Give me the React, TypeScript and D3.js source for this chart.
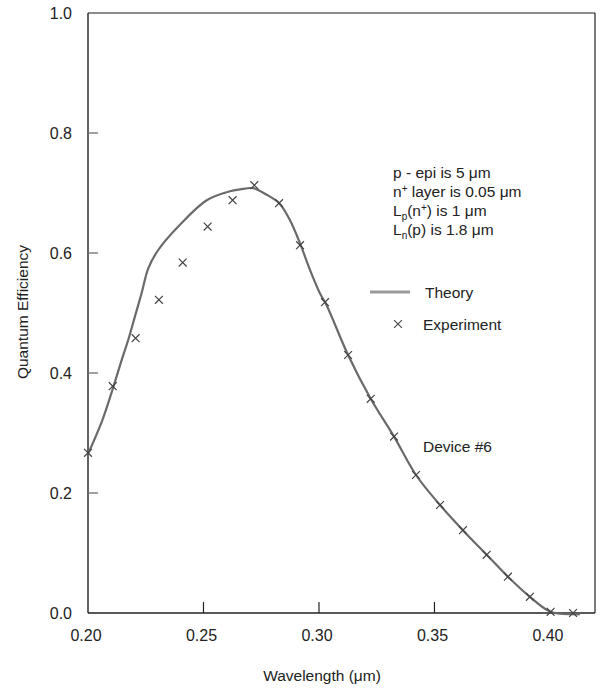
import React from "react";
import * as d3 from "d3";

const xTicks = [0.2, 0.25, 0.3, 0.35, 0.4];
const xTickLabels = ["0.20", "0.25", "0.30", "0.35", "0.40"];
const yTicks = [0, 0.2, 0.4, 0.6, 0.8, 1.0];
const yTickLabels = ["0.0", "0.2", "0.4", "0.6", "0.8", "1.0"];

const theoryX = [0.2, 0.2059, 0.211, 0.2146, 0.2174, 0.2203, 0.2232, 0.2261, 0.2304, 0.2398, 0.2514, 0.2615, 0.2658, 0.2716, 0.2774, 0.2828, 0.2874, 0.2918, 0.2961, 0.3004, 0.3033, 0.3126, 0.3224, 0.3325, 0.342, 0.3524, 0.3623, 0.3726, 0.3818, 0.3913, 0.4003, 0.41, 0.413];
const theoryY = [0.265, 0.318, 0.377, 0.422, 0.455, 0.494, 0.533, 0.5745, 0.605, 0.647, 0.688, 0.703, 0.706, 0.708, 0.697, 0.683, 0.655, 0.616, 0.572, 0.533, 0.513, 0.43, 0.357, 0.294, 0.23, 0.18, 0.138, 0.097, 0.0605, 0.027, 0.002, -0.002, -0.002];

const expX = [0.2, 0.2107, 0.2206, 0.2307, 0.241, 0.2518, 0.2626, 0.272, 0.2827, 0.2918, 0.3026, 0.3126, 0.3224, 0.3325, 0.342, 0.3524, 0.3623, 0.3726, 0.3818, 0.3913, 0.4003, 0.41];
const expY = [0.267, 0.378, 0.458, 0.522, 0.584, 0.644, 0.688, 0.713, 0.683, 0.613, 0.518, 0.43, 0.357, 0.294, 0.23, 0.18, 0.138, 0.097, 0.0605, 0.027, 0.002, 0.0];

const FONT = "'Liberation Sans', Arial, Helvetica, sans-serif";

export default function App() {
  const W = 603;
  const H = 690;
  const x = d3.scaleLinear().domain([0.2, 0.4195]).range([88, 595]);
  const y = d3.scaleLinear().domain([0, 1]).range([613, 13]);

  const theory = theoryX.map((v, i) => [v, theoryY[i]] as [number, number]);
  const line = d3
    .line<[number, number]>()
    .x((d) => x(d[0]))
    .y((d) => y(d[1]))
    .curve(d3.curveCatmullRom.alpha(0.5));

  const xSym = d3.symbol().type(d3.symbolX).size(42)() as string;

  const x0 = x(0.2);
  const x1 = x(0.4195);
  const y0 = y(0);
  const y1 = y(1);

  return (
    <svg
      width={W}
      height={H}
      style={{ position: "absolute", left: 0, top: 0, background: "#fff" }}
      fontFamily={FONT}
    >
      <rect x={0} y={0} width={W} height={H} fill="#fff" />
      {/* frame */}
      <line x1={x0} y1={y1} x2={x1} y2={y1} stroke="#666" strokeWidth={1.4} />
      <line x1={x1} y1={y1} x2={x1} y2={y0} stroke="#333" strokeWidth={1.3} />
      <line x1={x0} y1={y1} x2={x0} y2={y0} stroke="#222" strokeWidth={1.4} />
      <line x1={x0} y1={y0} x2={x1} y2={y0} stroke="#222" strokeWidth={1.4} />

      {/* y ticks */}
      {yTicks.map((t, i) => (
        <g key={"yt" + i}>
          {t > 0 && t < 1 && (
            <line x1={x0} x2={x0 + 10} y1={y(t)} y2={y(t)} stroke="#777" strokeWidth={1.4} />
          )}
          <text x={72} y={y(t) + 6} textAnchor="end" fontSize={16} fill="#222">
            {yTickLabels[i]}
          </text>
        </g>
      ))}

      {/* x ticks */}
      {xTicks.map((t, i) => (
        <g key={"xt" + i}>
          {t > 0.2 && t < 0.4 && (
            <line x1={x(t)} x2={x(t)} y1={y0} y2={y0 - 11} stroke="#222" strokeWidth={1.2} />
          )}
          <text x={x(t) - 2} y={641} textAnchor="middle" fontSize={16} fill="#222">
            {xTickLabels[i]}
          </text>
        </g>
      ))}

      {/* axis titles */}
      <text x={322} y={681} textAnchor="middle" fontSize={15.5} fill="#222">
        Wavelength (μm)
      </text>
      <text
        transform={`translate(28,312) rotate(-90)`}
        textAnchor="middle"
        fontSize={15.5}
        fill="#222"
      >
        Quantum Efficiency
      </text>

      {/* theory curve */}
      <path d={line(theory) || ""} fill="none" stroke="#6a6a6a" strokeWidth={2.2} />

      {/* experiment markers */}
      {expX.map((v, i) => (
        <path
          key={"e" + i}
          d={xSym}
          transform={`translate(${x(v)},${y(expY[i])})`}
          fill="none"
          stroke="#444"
          strokeWidth={1.2}
        />
      ))}

      {/* annotation */}
      <g fontSize={15.5} fill="#222">
        <text x={393} y={178}>p - epi is 5 μm</text>
        <text x={393} y={197}>
          n<tspan fontSize={10} dy={-5}>+</tspan>
          <tspan dy={5}> layer is 0.05 μm</tspan>
        </text>
        <text x={393} y={216}>
          L<tspan fontSize={10} dy={4}>p</tspan>
          <tspan dy={-4}>(n</tspan>
          <tspan fontSize={10} dy={-5}>+</tspan>
          <tspan dy={5}>) is 1 μm</tspan>
        </text>
        <text x={393} y={235}>
          L<tspan fontSize={10} dy={4}>n</tspan>
          <tspan dy={-4}>(p) is 1.8 μm</tspan>
        </text>
      </g>

      {/* legend */}
      <line x1={370} x2={410} y1={292} y2={292} stroke="#999" strokeWidth={3} />
      <text x={425} y={298} fontSize={15.5} fill="#222">Theory</text>
      <path d={xSym} transform="translate(398,324)" fill="none" stroke="#444" strokeWidth={1.1} />
      <text x={423} y={330} fontSize={15.5} fill="#222">Experiment</text>

      <text x={423} y={452} fontSize={15.5} fill="#222">Device #6</text>
    </svg>
  );
}
